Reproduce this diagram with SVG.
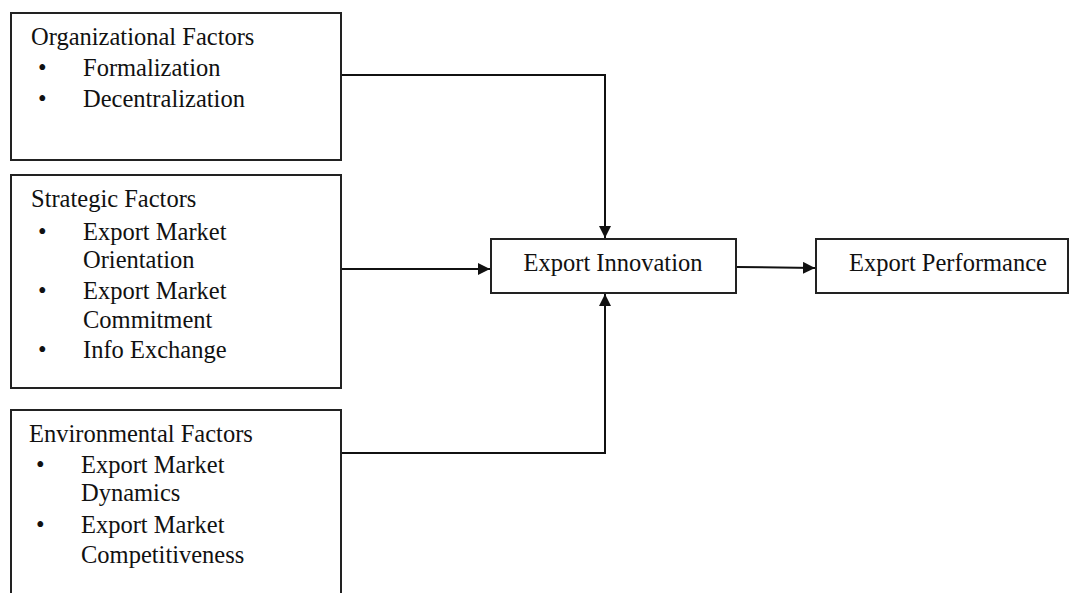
<svg xmlns="http://www.w3.org/2000/svg" width="1071" height="593" viewBox="0 0 1071 593">
<style>
.box{fill:#fff;stroke:#222;stroke-width:2}
.t{font-family:'Liberation Serif','Times New Roman','DejaVu Serif',serif;font-size:24.5px;fill:#111}
.c{fill:none;stroke:#111;stroke-width:2}
</style>
<defs>
<marker id="ah" viewBox="0 0 12 12" refX="12" refY="6" markerWidth="12" markerHeight="12" markerUnits="userSpaceOnUse" orient="auto">
<path d="M0,0 L12,6 L0,12 Z" fill="#111"/>
</marker>
</defs>
<rect width="1071" height="593" fill="#fff"/>
<g id="connectors">
<path class="c" d="M341,75 H605 V238" marker-end="url(#ah)"/>
<path class="c" d="M341,269 H490" marker-end="url(#ah)"/>
<path class="c" d="M341,453 H605 V294" marker-end="url(#ah)"/>
<path class="c" d="M736,267 L815,268" marker-end="url(#ah)"/>
</g>
<g id="organizational">
<rect class="box" x="11" y="13" width="330" height="147"/>
<text class="t" x="31" y="45">Organizational Factors</text>
<text class="t" x="38" y="76">•</text><text class="t" x="83" y="76">Formalization</text>
<text class="t" x="38" y="107">•</text><text class="t" x="83" y="107">Decentralization</text>
</g>
<g id="strategic">
<rect class="box" x="11" y="175" width="330" height="213"/>
<text class="t" x="31" y="207">Strategic Factors</text>
<text class="t" x="38" y="240">•</text><text class="t" x="83" y="240">Export Market</text>
<text class="t" x="83" y="268">Orientation</text>
<text class="t" x="38" y="299">•</text><text class="t" x="83" y="299">Export Market</text>
<text class="t" x="83" y="328">Commitment</text>
<text class="t" x="38" y="358">•</text><text class="t" x="83" y="358">Info Exchange</text>
</g>
<g id="environmental">
<rect class="box" x="11" y="410" width="330" height="200"/>
<text class="t" x="29" y="442">Environmental Factors</text>
<text class="t" x="36" y="473">•</text><text class="t" x="81" y="473">Export Market</text>
<text class="t" x="81" y="501">Dynamics</text>
<text class="t" x="36" y="533">•</text><text class="t" x="81" y="533">Export Market</text>
<text class="t" x="81" y="563">Competitiveness</text>
</g>
<g id="innovation">
<rect class="box" x="491" y="239" width="245" height="54"/>
<text class="t" x="613" y="271" text-anchor="middle">Export Innovation</text>
</g>
<g id="performance">
<rect class="box" x="816" y="239" width="252" height="54"/>
<text class="t" x="948" y="271" text-anchor="middle">Export Performance</text>
</g>
</svg>
